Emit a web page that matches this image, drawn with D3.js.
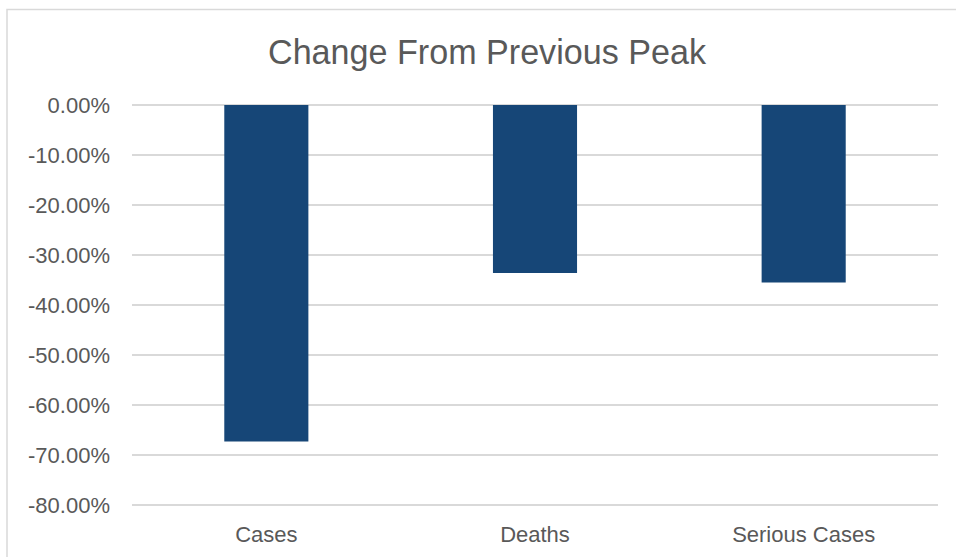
<!DOCTYPE html>
<html><head><meta charset="utf-8">
<script src="https://cdn.jsdelivr.net/npm/d3@7"></script>
<style>body{margin:0;background:#fff;}svg{display:block;}</style>
</head><body>
<svg id="chart" width="956" height="557"></svg>
<script>
const categories = ["Cases", "Deaths", "Serious Cases"];
const values = [-0.673, -0.336, -0.355];
const yTicks = [0, -0.1, -0.2, -0.3, -0.4, -0.5, -0.6, -0.7, -0.8];
const title = "Change From Previous Peak";

const svg = d3.select("#chart");
const W = 956, H = 557;
const m = {left: 132, right: 18, top: 105, bottom: 52};

// chart frame
svg.append("rect").attr("x", 7).attr("y", 9.5).attr("width", 970).attr("height", 600)
  .attr("fill", "#fff").attr("stroke", "#d9d9d9").attr("stroke-width", 1.5);

const x = d3.scaleBand().domain(categories).range([m.left, W - m.right])
  .paddingInner(0.687).paddingOuter(0.3435);
const y = d3.scaleLinear().domain([0, -0.8]).range([m.top, 505]);

// gridlines
svg.append("g").selectAll("line").data(yTicks).join("line")
  .attr("x1", m.left).attr("x2", W - m.right)
  .attr("y1", d => y(d)).attr("y2", d => y(d))
  .attr("stroke", "#d9d9d9").attr("stroke-width", 2);

// y axis labels
const fmt = d => (d === 0 ? "0.00" : "-" + Math.abs(d * 100).toFixed(2)) + "%";
const yAxis = d3.axisLeft(y).tickValues(yTicks).tickSize(0).tickPadding(0).tickFormat(fmt);
const gy = svg.append("g").attr("transform", `translate(110,0)`).call(yAxis);
gy.select(".domain").remove();
gy.selectAll("text").attr("fill", "#595959").attr("font-size", 22)
  .attr("font-family", "Liberation Sans, Arial, sans-serif");

// bars
svg.append("g").selectAll("rect").data(values).join("rect")
  .attr("x", (d, i) => x(categories[i]))
  .attr("width", x.bandwidth())
  .attr("y", d => y(0))
  .attr("height", d => y(d) - y(0))
  .attr("fill", "#164677");

// x axis labels
const xAxis = d3.axisBottom(x).tickSize(0).tickPadding(0);
const gx = svg.append("g").attr("transform", `translate(0,526)`).call(xAxis);
gx.select(".domain").remove();
gx.selectAll("text").attr("fill", "#595959").attr("font-size", 22)
  .attr("font-family", "Liberation Sans, Arial, sans-serif").attr("dy", "0.71em");

// title
svg.append("text").attr("x", 487).attr("y", 64).attr("text-anchor", "middle")
  .attr("fill", "#595959").attr("font-size", 35)
  .attr("font-family", "Liberation Sans Narrow, Arial Narrow, sans-serif")
  .attr("textLength", 438).attr("lengthAdjust", "spacingAndGlyphs")
  .text(title);
</script>
</body></html>
